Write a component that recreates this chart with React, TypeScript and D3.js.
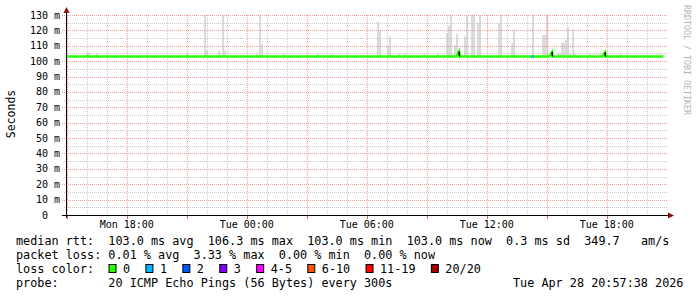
import React from "react";
import * as d3 from "d3";

// ---------- data ----------
const startTime = "2026-04-27T14:57:38";
const endTime = "2026-04-28T20:57:38";

const yTicks = [0, 10, 20, 30, 40, 50, 60, 70, 80, 90, 100, 110, 120, 130];

// median rtt (ms)
const medianTimes = [
  "2026-04-27T14:58", "2026-04-28T10:28", "2026-04-28T10:37", "2026-04-28T10:38",
  "2026-04-28T15:07", "2026-04-28T15:16", "2026-04-28T15:17",
  "2026-04-28T17:46", "2026-04-28T17:55", "2026-04-28T17:56", "2026-04-28T20:50",
];
const medianValues = [103, 103, 106.3, 103, 103, 106.0, 103, 103, 105.8, 103, 103];

// loss events (sample start, number of lost pings out of 20)
const lossTimes = ["2026-04-28T14:13"];
const lossCounts = [1];

// smoke (ping spread) samples: time and top of spread in ms
const smokeTimes = [
  "2026-04-27T15:58", "2026-04-27T16:04", "2026-04-27T16:28", "2026-04-27T20:58",
  "2026-04-27T21:52", "2026-04-27T21:58", "2026-04-27T22:34", "2026-04-27T22:46",
  "2026-04-27T22:52", "2026-04-28T00:28", "2026-04-28T00:37", "2026-04-28T00:43",
  "2026-04-28T01:49", "2026-04-28T03:31", "2026-04-28T04:13", "2026-04-28T06:31",
  "2026-04-28T06:37", "2026-04-28T07:01", "2026-04-28T07:07", "2026-04-28T07:34",
  "2026-04-28T07:52", "2026-04-28T08:49", "2026-04-28T09:31", "2026-04-28T09:58",
  "2026-04-28T10:04", "2026-04-28T10:10", "2026-04-28T10:22", "2026-04-28T10:28",
  "2026-04-28T10:52", "2026-04-28T10:58", "2026-04-28T11:13", "2026-04-28T11:19",
  "2026-04-28T11:31", "2026-04-28T11:37", "2026-04-28T12:34", "2026-04-28T12:40",
  "2026-04-28T13:13", "2026-04-28T13:19", "2026-04-28T14:16", "2026-04-28T14:46",
  "2026-04-28T14:52", "2026-04-28T14:58", "2026-04-28T15:31", "2026-04-28T15:37",
  "2026-04-28T15:43", "2026-04-28T15:49", "2026-04-28T15:55", "2026-04-28T16:01",
  "2026-04-28T16:07", "2026-04-28T16:16", "2026-04-28T16:22", "2026-04-28T17:07",
  "2026-04-28T18:40",
];
const smokeTops = [
  105.5, 105.5, 104.8, 104.8,
  140, 107, 106.5, 140,
  107, 105, 140, 111,
  105, 105, 104.5, 125.5,
  120, 110, 116, 105,
  105, 105, 105, 118,
  123, 140, 110.5, 118,
  116, 140, 140, 140,
  125, 140, 125, 140,
  112, 120, 140, 117,
  117, 140, 105.3, 105.5,
  112, 112, 114, 122,
  105, 121, 105, 104.8,
  104.5,
];

const lossLabels = ["0", "1", "2", "3", "4-5", "6-10", "11-19", "20/20"];
const lossColors = ["#26ff00", "#00b8ff", "#0059ff", "#7e00ff", "#ff00ff", "#ff5500", "#ff0000", "#a10000"];

const legendLine1 = "median rtt:  103.0 ms avg  106.3 ms max  103.0 ms min  103.0 ms now  0.3 ms sd  349.7   am/s";
const legendLine2 = "packet loss: 0.01 % avg  3.33 % max  0.00 % min  0.00 % now";
const legendLine3 = "loss color:";
const legendLine4 = "probe:       20 ICMP Echo Pings (56 Bytes) every 300s";
const dateText = "Tue Apr 28 20:57:38 2026";
const yTitle = "Seconds";
const sideText = "RRDTOOL / TOBI OETIKER";

// ---------- chart ----------
const W = 697, H = 297;
const L = 66, R = 666, T = 15, B = 215;
const MONO = "'DejaVu Sans Mono', monospace";

export default function App() {
  const parseS = d3.timeParse("%Y-%m-%dT%H:%M:%S");
  const parse = d3.timeParse("%Y-%m-%dT%H:%M");
  const t0 = parseS(startTime)!;
  const t1 = parseS(endTime)!;
  const x = d3.scaleTime().domain([t0, t1]).range([L, R]);
  const y = d3.scaleLinear().domain([0, 130]).range([B, T]);

  const minorTicks = d3.timeHour.every(1)!.range(t0, t1);
  const majorTicks = d3.timeHour.every(3)!.range(t0, t1);
  const labelTicks = d3.timeHour.every(6)!.range(t0, t1);
  const fmt = d3.timeFormat("%a %H:%M");

  const minorY = d3.range(5, 131, 10);

  const medPts = medianTimes.map((s, i) => [x(parse(s)!), y(medianValues[i])] as [number, number]);
  const line = d3.line();

  const stepMs = 6 * 60 * 1000;
  const clipId = "plotclip";

  const charW = 7.1;
  let acc = 0;
  const boxXs = lossLabels.map((lab) => {
    const bx = 108.5 + acc * charW;
    acc += lab.length + 4.2;
    return bx;
  });

  // black descending edges at median blips
  const blips: [number, number][][] = [];
  medianValues.forEach((v, i) => {
    if (v > 104 && i + 1 < medPts.length) blips.push([medPts[i], medPts[i + 1]]);
  });

  return (
    <svg width={W} height={H} style={{ position: "absolute", left: 0, top: 0, background: "#fff" }}>
      <defs>
        <clipPath id={clipId}>
          <rect x={L} y={T} width={R - L + 2} height={B - T} />
        </clipPath>
      </defs>
      <rect x={0} y={0} width={W} height={H} fill="#fff" />

      {/* smoke */}
      <g clipPath={`url(#${clipId})`}>
        {smokeTimes.map((s, i) => {
          const t = parse(s)!;
          const xa = x(t);
          const xb = x(new Date(t.getTime() + stepMs));
          return (
            <rect key={i} x={xa} y={y(smokeTops[i])} width={xb - xa}
              height={y(102.6) - y(smokeTops[i])} fill="#d9d9d9" />
          );
        })}
      </g>

      {/* minor grid */}
      {minorY.map((v) => (
        <line key={"my" + v} x1={L - 2} x2={R + 2} y1={Math.round(y(v)) + 0.5} y2={Math.round(y(v)) + 0.5}
          stroke="#c8c8c8" strokeDasharray="1,1" />
      ))}
      {minorTicks.map((t, i) => (
        <line key={"mx" + i} x1={Math.round(x(t)) + 0.5} x2={Math.round(x(t)) + 0.5} y1={T} y2={B}
          stroke="#c8c8c8" strokeDasharray="1,1" />
      ))}
      {/* major grid */}
      {yTicks.filter((v) => v > 0).map((v) => (
        <line key={"My" + v} x1={L - 4} x2={R + 2} y1={Math.round(y(v)) + 0.5} y2={Math.round(y(v)) + 0.5}
          stroke="#f09a9a" strokeDasharray="1,1" />
      ))}
      {majorTicks.map((t, i) => (
        <line key={"Mx" + i} x1={Math.round(x(t)) + 0.5} x2={Math.round(x(t)) + 0.5} y1={T} y2={B}
          stroke="#f09a9a" strokeDasharray="1,1" />
      ))}

      {/* median line */}
      <path d={line(medPts)!} fill="none" stroke={lossColors[0]} strokeWidth={2.4} />
      {blips.map((seg, i) => (
        <path key={"b" + i} d={line(seg)!} fill="none" stroke="#000" strokeWidth={1.5} />
      ))}
      {lossTimes.map((s, i) => {
        const t = parse(s)!;
        const xa = x(t);
        const xb = x(new Date(t.getTime() + 8 * 60 * 1000));
        const idx = lossCounts[i] <= 3 ? lossCounts[i] : 4;
        return (
          <line key={"l" + i} x1={xa} x2={xb} y1={y(103)} y2={y(103)} stroke={lossColors[idx]} strokeWidth={2.4} />
        );
      })}

      {/* axes */}
      <line x1={L + 0.5} x2={L + 0.5} y1={10} y2={B + 3} stroke="#000" />
      <line x1={L - 4} x2={R + 4} y1={B + 0.5} y2={B + 0.5} stroke="#000" />
      <path d={`M${L - 2.5},${13} L${L + 0.5},${7} L${L + 3.5},${13} Z`} fill="#8b1010" />
      <path d={`M${R + 2},${B - 2.5} L${R + 8},${B + 0.5} L${R + 2},${B + 3.5} Z`} fill="#8b1010" />
      {majorTicks.map((t, i) => (
        <line key={"tk" + i} x1={Math.round(x(t)) + 0.5} x2={Math.round(x(t)) + 0.5} y1={B + 1} y2={B + 4}
          stroke="#e06060" />
      ))}

      {/* y labels */}
      {yTicks.map((v) => (
        <text key={"yl" + v} x={60} y={y(v) + 3.5} textAnchor="end" fontFamily={MONO} fontSize={10}
          fill="#000" xmlSpace="preserve">
          {v === 0 ? "0  " : `${v} m`}
        </text>
      ))}
      {/* x labels */}
      {labelTicks.map((t, i) => (
        <text key={"xl" + i} x={x(t)} y={228} textAnchor="middle" fontFamily={MONO} fontSize={10} fill="#000">
          {fmt(t)}
        </text>
      ))}

      <text transform="translate(15,114) rotate(-90)" textAnchor="middle" fontFamily={MONO} fontSize={11.5} fill="#000">
        {yTitle}
      </text>
      <text transform="translate(684,5) rotate(90)" textAnchor="start" fontFamily={MONO} fontSize={8.3} fill="#b4b4b4">
        {sideText}
      </text>

      {/* legend */}
      <g fontFamily={MONO} fontSize={11.8} fill="#000">
        <text x={16} y={245} xmlSpace="preserve">{legendLine1}</text>
        <text x={16} y={259} xmlSpace="preserve">{legendLine2}</text>
        <text x={16} y={273} xmlSpace="preserve">{legendLine3}</text>
        {lossLabels.map((lab, i) => (
          <g key={"lg" + i}>
            <rect x={boxXs[i] + 0.5} y={264.5} width={7} height={8} fill={lossColors[i]} stroke="#000" />
            <text x={boxXs[i] + 14.5} y={273}>{lab}</text>
          </g>
        ))}
        <text x={16} y={287} xmlSpace="preserve">{legendLine4}</text>
        <text x={513} y={287}>{dateText}</text>
      </g>
    </svg>
  );
}
